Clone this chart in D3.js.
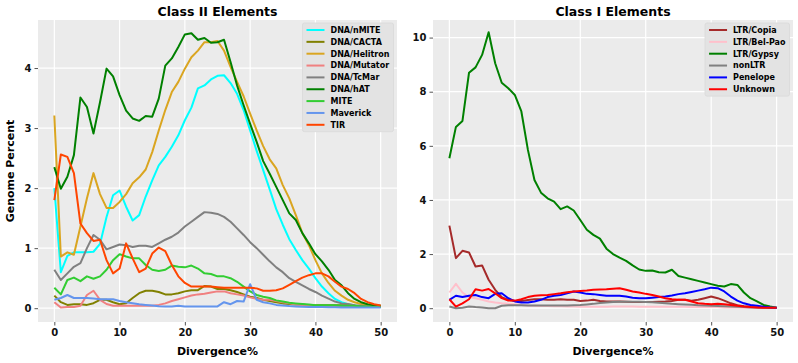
<!DOCTYPE html>
<html>
<head>
<meta charset="utf-8">
<script src="https://cdn.jsdelivr.net/npm/d3@7/dist/d3.min.js"></script>
<style>
    body { margin: 0; background: #fff; }
    svg { display: block; font-family: "DejaVu Sans", sans-serif; font-weight: bold; }
</style>
</head>
<body>
<div id="chart-area"></div>
<script>
// Divergence (%) bins shared by both panels
const divergence = d3.range(0, 51);

// Class II (DNA transposons), genome percent per bin
const dnaNMITE = [2.0,0.6,0.87,0.93,0.93,0.93,0.94,1.07,1.52,1.88,1.96,1.69,1.46,1.55,1.86,2.13,2.38,2.52,2.69,2.88,3.13,3.34,3.66,3.71,3.81,3.87,3.88,3.75,3.57,3.3,2.96,2.62,2.3,1.98,1.65,1.39,1.15,0.97,0.8,0.66,0.5,0.36,0.25,0.155,0.1,0.066,0.045,0.03,0.02,0.02,0.02];
const dnaCACTA = [0.21,0.1,0.055,0.066,0.066,0.055,0.083,0.14,0.14,0.1,0.066,0.083,0.17,0.25,0.29,0.29,0.27,0.23,0.23,0.25,0.28,0.3,0.3,0.37,0.36,0.32,0.32,0.3,0.27,0.23,0.19,0.17,0.14,0.12,0.1,0.08,0.07,0.06,0.06,0.05,0.05,0.05,0.05,0.05,0.05,0.05,0.04,0.03,0.02,0.02,0.02];
const dnaHelitron = [3.21,0.86,0.93,0.89,1.36,1.83,2.25,1.9,1.67,1.67,1.77,1.9,2.08,2.18,2.31,2.6,2.96,3.3,3.6,3.77,3.99,4.18,4.29,4.43,4.43,4.45,4.29,4.02,3.77,3.53,3.24,2.96,2.7,2.48,2.33,2.05,1.83,1.55,1.25,1.05,0.8,0.58,0.42,0.29,0.21,0.14,0.1,0.07,0.05,0.04,0.03];
const dnaMutator = [0.1,0.01,0.02,0.02,0.04,0.22,0.29,0.14,0.07,0.04,0.04,0.04,0.04,0.04,0.04,0.04,0.055,0.08,0.12,0.15,0.18,0.21,0.23,0.24,0.26,0.28,0.28,0.25,0.23,0.21,0.18,0.155,0.14,0.14,0.12,0.1,0.08,0.06,0.05,0.04,0.04,0.03,0.03,0.03,0.03,0.02,0.02,0.02,0.02,0.02,0.02];
const dnaTcMar = [0.64,0.47,0.58,0.69,0.75,1.0,1.22,1.14,0.98,1.02,1.06,1.05,1.02,1.04,1.04,1.02,1.08,1.14,1.19,1.26,1.36,1.44,1.52,1.6,1.59,1.57,1.52,1.44,1.33,1.22,1.1,1.0,0.89,0.78,0.68,0.6,0.5,0.44,0.38,0.32,0.27,0.21,0.16,0.11,0.08,0.07,0.05,0.04,0.03,0.03,0.02];
const dnaHAT = [2.35,1.99,2.19,2.55,3.51,3.35,2.91,3.43,3.99,3.86,3.55,3.29,3.16,3.12,3.2,3.19,3.49,4.04,4.16,4.35,4.56,4.58,4.47,4.5,4.42,4.43,4.47,4.1,3.71,3.38,3.07,2.77,2.45,2.24,2.02,1.8,1.58,1.47,1.25,1.08,0.9,0.78,0.64,0.47,0.38,0.25,0.155,0.1,0.066,0.05,0.04];
const mite = [0.34,0.23,0.47,0.51,0.45,0.53,0.49,0.53,0.64,0.8,0.9,0.86,0.83,0.83,0.72,0.64,0.62,0.64,0.71,0.69,0.68,0.71,0.66,0.58,0.57,0.53,0.53,0.5,0.44,0.36,0.28,0.22,0.19,0.17,0.13,0.11,0.09,0.08,0.07,0.06,0.05,0.05,0.05,0.05,0.04,0.04,0.04,0.03,0.03,0.02,0.02];
const maverick = [0.14,0.17,0.22,0.17,0.17,0.17,0.16,0.15,0.15,0.15,0.12,0.1,0.083,0.066,0.055,0.044,0.033,0.03,0.03,0.04,0.03,0.03,0.03,0.03,0.03,0.03,0.1,0.066,0.12,0.11,0.4,0.14,0.1,0.08,0.055,0.044,0.035,0.03,0.025,0.02,0.02,0.02,0.015,0.015,0.01,0.01,0.01,0.01,0.01,0.01,0.01];
const tir = [1.8,2.56,2.52,2.25,1.41,1.25,1.12,1.14,0.8,0.58,0.66,1.08,0.83,0.6,0.66,0.91,1.01,0.95,0.72,0.53,0.42,0.36,0.36,0.36,0.36,0.35,0.34,0.34,0.34,0.34,0.34,0.33,0.29,0.29,0.3,0.33,0.39,0.45,0.51,0.55,0.58,0.58,0.53,0.44,0.36,0.32,0.25,0.155,0.1,0.066,0.044];

// Class I (retrotransposons)
const ltrCopia = [3.05,1.85,2.12,2.06,1.54,1.58,1.05,0.68,0.41,0.31,0.27,0.27,0.3,0.33,0.33,0.31,0.31,0.33,0.31,0.31,0.27,0.28,0.31,0.27,0.25,0.25,0.25,0.24,0.23,0.23,0.23,0.23,0.24,0.25,0.27,0.31,0.31,0.28,0.31,0.37,0.43,0.37,0.28,0.18,0.11,0.07,0.05,0.03,0.02,0.02,0.02];
const ltrBelPao = [0.58,0.9,0.58,0.41,0.37,0.31,0.25,0.21,0.18,0.16,0.15,0.12,0.1,0.09,0.08,0.08,0.07,0.07,0.06,0.06,0.05,0.05,0.05,0.05,0.05,0.06,0.06,0.06,0.06,0.05,0.05,0.05,0.05,0.05,0.05,0.05,0.05,0.04,0.04,0.04,0.04,0.04,0.03,0.03,0.03,0.02,0.02,0.02,0.02,0.01,0.01];
const ltrGypsy = [5.54,6.7,6.92,8.7,8.9,9.36,10.2,9.05,8.33,8.13,7.88,7.27,5.85,4.74,4.27,4.06,3.94,3.66,3.76,3.61,3.26,2.9,2.71,2.57,2.2,2.0,1.87,1.75,1.58,1.43,1.38,1.39,1.33,1.32,1.42,1.19,1.13,1.07,1.01,0.95,0.89,0.83,0.8,0.89,0.86,0.58,0.37,0.25,0.12,0.06,0.02];
const nonLTR = [0.06,0.0,0.02,0.06,0.04,0.03,0.0,0.0,0.09,0.11,0.11,0.11,0.1,0.1,0.1,0.1,0.1,0.1,0.1,0.11,0.12,0.14,0.16,0.19,0.21,0.23,0.24,0.24,0.24,0.24,0.23,0.22,0.2,0.18,0.16,0.15,0.14,0.13,0.11,0.1,0.09,0.08,0.07,0.06,0.05,0.04,0.03,0.03,0.02,0.02,0.02];
const penelope = [0.31,0.46,0.41,0.46,0.49,0.41,0.37,0.53,0.55,0.37,0.25,0.21,0.21,0.25,0.31,0.41,0.46,0.49,0.55,0.62,0.58,0.53,0.52,0.49,0.46,0.46,0.46,0.43,0.39,0.37,0.37,0.39,0.41,0.43,0.47,0.52,0.55,0.6,0.65,0.7,0.76,0.74,0.62,0.43,0.28,0.18,0.12,0.09,0.05,0.03,0.02];
const unknown = [0.33,0.06,0.18,0.33,0.7,0.65,0.71,0.55,0.37,0.28,0.28,0.33,0.41,0.46,0.48,0.49,0.52,0.55,0.59,0.62,0.64,0.65,0.68,0.69,0.7,0.72,0.74,0.68,0.62,0.58,0.53,0.49,0.43,0.37,0.33,0.31,0.31,0.25,0.18,0.16,0.15,0.16,0.15,0.12,0.09,0.06,0.04,0.03,0.02,0.02,0.02];

const classIINames = ['DNA/nMITE', 'DNA/CACTA', 'DNA/Helitron', 'DNA/Mutator', 'DNA/TcMar', 'DNA/hAT', 'MITE', 'Maverick', 'TIR'];
const classIIValues = [dnaNMITE, dnaCACTA, dnaHelitron, dnaMutator, dnaTcMar, dnaHAT, mite, maverick, tir];
const classIIColors = ['cyan', 'olive', 'goldenrod', 'lightcoral', 'grey', 'green', 'limegreen', 'cornflowerblue', 'orangered'];

const classINames = ['LTR/Copia', 'LTR/Bel-Pao', 'LTR/Gypsy', 'nonLTR', 'Penelope', 'Unknown'];
const classIValues = [ltrCopia, ltrBelPao, ltrGypsy, nonLTR, penelope, unknown];
const classIColors = ['brown', 'pink', 'green', 'grey', 'blue', 'red'];

const xTicks = [0, 10, 20, 30, 40, 50];
const classIITicks = [0, 1, 2, 3, 4];
const classITicks = [0, 2, 4, 6, 8, 10];

const WIDTH = 798;
const HEIGHT = 363;
const TOP = 20, BOTTOM = 322;

const svg = d3.select('#chart-area').append('svg')
    .attr('width', WIDTH)
    .attr('height', HEIGHT);

function drawPanel(p) {
    const x = d3.scaleLinear().domain([-2.5, 52.5]).range([p.left, p.right]);
    const y = d3.scaleLinear().domain(p.yDomain).range([BOTTOM, TOP]);

    const g = svg.append('g');

    // Grey ggplot-like background
    g.append('rect')
        .attr('x', p.left).attr('y', TOP)
        .attr('width', p.right - p.left).attr('height', BOTTOM - TOP)
        .attr('fill', '#EBEBEB');

    // White grid lines on major ticks
    g.append('g').selectAll('line').data(xTicks).join('line')
        .attr('x1', d => x(d)).attr('x2', d => x(d))
        .attr('y1', TOP).attr('y2', BOTTOM)
        .attr('stroke', '#fff').attr('stroke-width', 1.2);
    g.append('g').selectAll('line').data(p.yTicks).join('line')
        .attr('x1', p.left).attr('x2', p.right)
        .attr('y1', d => y(d)).attr('y2', d => y(d))
        .attr('stroke', '#fff').attr('stroke-width', 1.2);

    // Axes (no domain line, short outward ticks)
    const xAxis = g.append('g')
        .attr('transform', `translate(0,${BOTTOM})`)
        .call(d3.axisBottom(x).tickValues(xTicks).tickFormat(d3.format('d')).tickSize(3.5).tickPadding(3));
    const yAxis = g.append('g')
        .attr('transform', `translate(${p.left},0)`)
        .call(d3.axisLeft(y).tickValues(p.yTicks).tickFormat(d3.format('d')).tickSize(3.5).tickPadding(3));
    [xAxis, yAxis].forEach(a => {
        a.select('.domain').remove();
        a.selectAll('line').attr('stroke', '#555');
        a.selectAll('text')
            .attr('fill', '#111')
            .attr('font-size', '10px')
            .attr('font-weight', 'bold')
            .attr('font-family', '"DejaVu Sans", sans-serif');
    });

    // Series lines
    const line = d3.line()
        .x((d, i) => x(divergence[i]))
        .y(d => y(d));
    g.append('g').selectAll('path').data(p.values).join('path')
        .attr('d', line)
        .attr('fill', 'none')
        .attr('stroke', (d, i) => p.colors[i])
        .attr('stroke-width', 2)
        .attr('stroke-linejoin', 'round');

    // Title and axis labels
    g.append('text')
        .attr('x', (p.left + p.right) / 2).attr('y', 16)
        .attr('text-anchor', 'middle')
        .attr('font-size', '12.5px')
        .text(p.title);
    g.append('text')
        .attr('x', (p.left + p.right) / 2).attr('y', 355)
        .attr('text-anchor', 'middle')
        .attr('font-size', '11px')
        .text('Divergence%');
    if (p.yLabel) {
        g.append('text')
            .attr('transform', `translate(14,${(TOP + BOTTOM) / 2}) rotate(-90)`)
            .attr('text-anchor', 'middle')
            .attr('font-size', '11px')
            .text(p.yLabel);
    }

    // Legend, top right inside the plot
    const leg = g.append('g');
    const box = leg.append('rect')
        .attr('fill', '#E3E3E3')
        .attr('stroke', '#DCDCDC')
        .attr('rx', 2);
    const rowH = 11.85;
    const items = leg.selectAll('g.item').data(p.names).join('g')
        .attr('class', 'item')
        .attr('transform', (d, i) => `translate(0,${i * rowH})`);
    items.append('line')
        .attr('x1', 4).attr('x2', 22)
        .attr('stroke', (d, i) => p.colors[i])
        .attr('stroke-width', 2);
    const labels = items.append('text')
        .attr('x', 28).attr('dy', '0.35em')
        .attr('font-size', '8px')
        .text(d => d);
    const maxW = d3.max(labels.nodes(), n => n.getComputedTextLength());
    const boxW = 28 + maxW + 4;
    const boxH = rowH * p.names.length + 2;
    box.attr('x', 0).attr('y', -7).attr('width', boxW).attr('height', boxH);
    leg.attr('transform', `translate(${p.right - 3.5 - boxW},${TOP + 10})`);
}

drawPanel({
    left: 38, right: 397,
    yDomain: [-0.23, 4.8],
    yTicks: classIITicks,
    title: 'Class II Elements',
    yLabel: 'Genome Percent',
    names: classIINames,
    values: classIIValues,
    colors: classIIColors
});

drawPanel({
    left: 433, right: 793,
    yDomain: [-0.51, 10.65],
    yTicks: classITicks,
    title: 'Class I Elements',
    yLabel: null,
    names: classINames,
    values: classIValues,
    colors: classIColors
});
</script>
</body>
</html>
